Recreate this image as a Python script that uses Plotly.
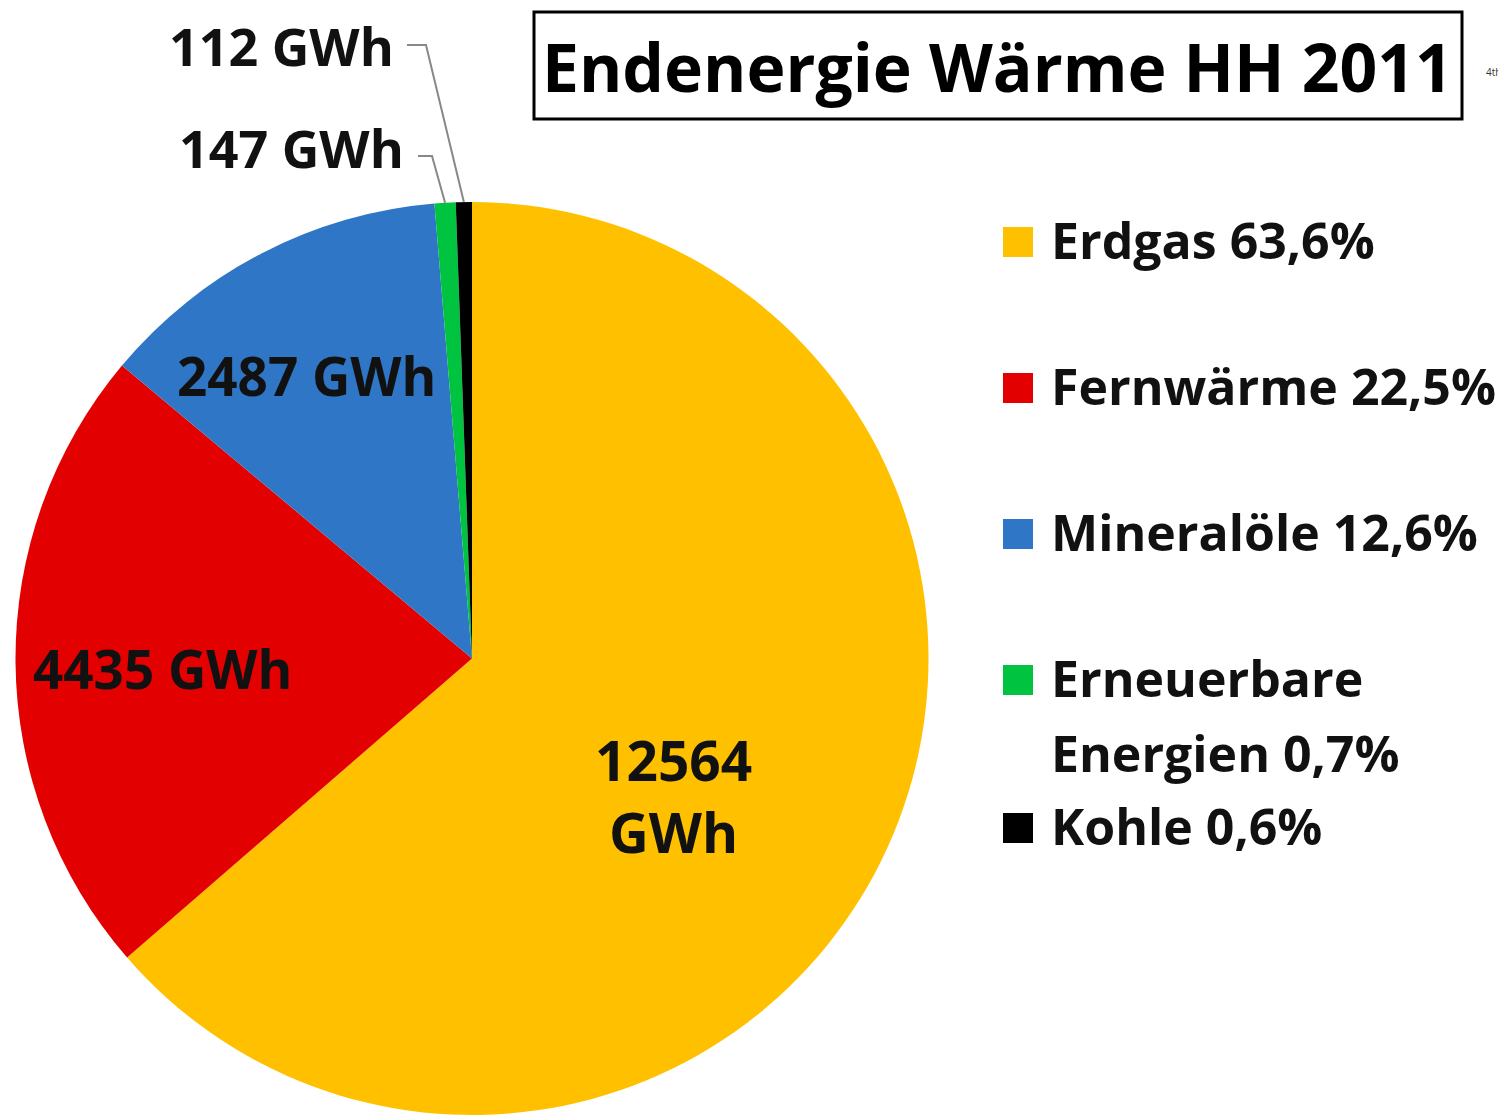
import math
import plotly.graph_objects as go

# data
sources = ['Erdgas', 'Fernwärme', 'Mineralöle', 'Erneuerbare Energien', 'Kohle']
gwh = [12564, 4435, 2487, 147, 112]
shares = ['63,6%', '22,5%', '12,6%', '0,7%', '0,6%']
legend_lines = [['Erdgas 63,6%'], ['Fernwärme 22,5%'], ['Mineralöle 12,6%'],
                ['Erneuerbare', 'Energien 0,7%'], ['Kohle 0,6%']]
colors = ['#FFC000', '#E20000', '#2F77C6', '#00C43F', '#000000']
title = 'Endenergie Wärme HH 2011'

W, H = 1506, 1115
OFF = 8  # page body margin
FONT = 'Open Sans'
TXT = '#111111'


def px(x, y):
    return (x - OFF) / W, 1 - (y - OFF) / H


# pie geometry (pixels in the screenshot)
cx, cy, R = 472, 658.5, 456.5

fig = go.Figure(go.Pie(
    labels=sources, values=gwh, sort=False, direction='clockwise', rotation=0,
    marker=dict(colors=colors, line=dict(width=0)),
    textinfo='none', hoverinfo='label+value+percent', showlegend=False,
    domain=dict(x=[(cx - R - OFF) / W, (cx + R - OFF) / W],
                y=[(H + OFF - cy - R) / H, (H + OFF - cy + R) / H]),
))

annotations = []
shapes = []


def label(x, y, text, size, xanchor='center', color=TXT, weight='bold', yanchor='middle'):
    a, b = px(x, y)
    if yanchor == 'top':
        b = min(b, 1)
    annotations.append(dict(x=a, y=b, xref='paper', yref='paper', text=text, showarrow=False,
                            xanchor=xanchor, yanchor=yanchor, align='center',
                            font=dict(family=FONT, size=size, color=color, weight=weight)))


# inside labels
label_pos = [(673, 795), (162, 668), (306, 375)]
label_size = [55, 53, 53]
for i, (lx, ly) in enumerate(label_pos):
    txt = f'{gwh[i]}<br>GWh' if i == 0 else f'{gwh[i]} GWh'
    label(lx, ly, txt, label_size[i])

# outside labels with leader lines to slice midpoints
total = sum(gwh)
outside = {3: (406, 147, 418, 432), 4: (396, 36, 407, 426)}
for i, (tx, ty, lx0, lx1) in outside.items():
    mid = (sum(gwh[:i]) + gwh[i] / 2) / total * 2 * math.pi
    ex, ey = cx + R * math.sin(mid), cy - R * math.cos(mid)
    if i == 4:
        label(tx, 0, f'{gwh[i]} GWh', 52, xanchor='right', yanchor='top')
    else:
        label(tx, ty, f'{gwh[i]} GWh', 52, xanchor='right')
    ly = ty + 9
    p = [px(lx0, ly), px(lx1, ly), px(ex, ey)]
    path = 'M {} {} L {} {} L {} {}'.format(p[0][0], p[0][1], p[1][0], p[1][1], p[2][0], p[2][1])
    shapes.append(dict(type='path', xref='paper', yref='paper', path=path,
                       line=dict(color='#888888', width=2)))

# legend
legend_y = [242, 388, 534, 680, 828]
line_gap = 75
for i, lines in enumerate(legend_lines):
    y0 = legend_y[i]
    a, b = px(1003, y0 - 15)
    c, d = px(1033, y0 + 15)
    shapes.append(dict(type='rect', xref='paper', yref='paper', x0=a, y0=d, x1=c, y1=b,
                       fillcolor=colors[i], line=dict(width=0)))
    for k, line in enumerate(lines):
        label(1049, y0 - 2 + k * line_gap, line, 50, xanchor='left')

# title box
a, b = px(534, 12)
c, d = px(1462, 119)
shapes.append(dict(type='rect', xref='paper', yref='paper', x0=a, y0=d, x1=c, y1=b,
                   line=dict(color='#000000', width=3), fillcolor='rgba(0,0,0,0)'))
label(997, 66, title, 66, color='#000000')
label(1484, 72, '4th', 10, xanchor='left', color='#333333', weight='normal')

fig.update_layout(
    width=W, height=H, margin=dict(l=0, r=0, t=0, b=0),
    paper_bgcolor='white', plot_bgcolor='white',
    annotations=annotations, shapes=shapes,
)
fig.write_html('out.html')
